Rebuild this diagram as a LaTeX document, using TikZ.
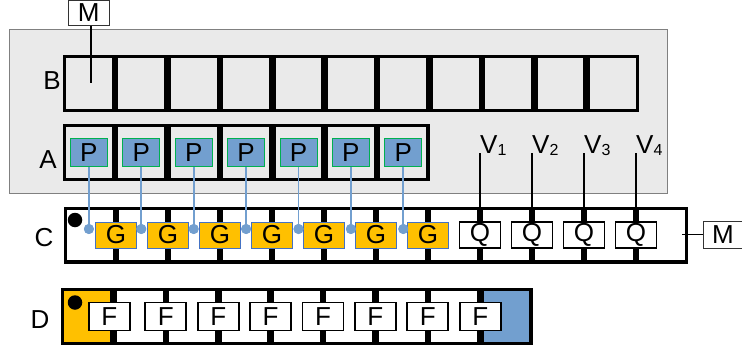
\documentclass[tikz,border=0pt]{standalone}
\usepackage{fontspec}
\setmainfont{Liberation Sans}
\definecolor{orangeG}{HTML}{FFC000}
\definecolor{bleuP}{HTML}{729FCF}
\definecolor{vertP}{HTML}{00B050}
\definecolor{bleuG}{HTML}{4472C4}
\definecolor{fond}{HTML}{EAEAEA}
\begin{document}
\begin{tikzpicture}[x=1pt,y=-1pt,font=\fontsize{26}{30}\selectfont]
	% Styles
	\tikzstyle{case}=[draw, line width=3.3pt, inner sep=0pt, minimum height=53.7pt]
	\tikzstyle{boiteP}=[draw=vertP, fill=bleuP, line width=0.8pt, minimum width=37pt, minimum height=28pt, inner sep=0pt]
	\tikzstyle{boiteG}=[draw=bleuG, fill=orangeG, line width=0.8pt, minimum width=41pt, minimum height=26pt, inner sep=0pt]
	\tikzstyle{boiteQ}=[draw, fill=white, line width=1.7pt, minimum width=41pt, minimum height=26pt, inner sep=0pt]
	\tikzstyle{boiteF}=[draw, fill=white, line width=1.7pt, minimum width=41pt, minimum height=28pt, inner sep=0pt]
	\tikzstyle{renvoi}=[draw=black!80, fill=white, line width=0.8pt, minimum width=40pt, minimum height=26pt, inner sep=0pt]
	\tikzstyle{etiquette}=[inner sep=0pt]
	\tikzstyle{pastille}=[circle, fill=black, inner sep=0pt, minimum size=14.5pt]
	\tikzstyle{point}=[circle, fill=bleuP, inner sep=0pt, minimum size=10pt]
	\tikzstyle{lien}=[bleuP, line width=1.8pt]
	\tikzstyle{fil}=[line width=2pt]
	% Dimensions
	\def\Pas{52.4}
	\def\PasC{52}
	\def\Trait{3.3}
	\def\XB{62.7}
	\def\XC{64}
	\def\XD{61}
	\def\LigneB{83.5}
	\def\LigneA{152.5}
	\def\LigneC{235}
	\def\LigneD{316.5}
	\useasboundingbox (0,0) rectangle (742,356);
	% Fond
	\draw[draw=black!50, fill=fond, line width=1pt] (9,29) rectangle (667,193);
	% Rangees de cases
	\foreach \k in {1,...,11} \node[case, minimum width={(\Pas-\Trait)*1pt}] (B\k) at ({\XB+\Pas*(\k-0.5)},\LigneB) {};
	\foreach \k in {1,...,7} \node[case, minimum width={(\Pas-\Trait)*1pt}] (A\k) at ({\XB+\Pas*(\k-0.5)},\LigneA) {};
	\foreach \k in {1,...,12} \node[case, fill=white, minimum width={(\PasC-\Trait)*1pt}] (C\k) at ({\XC+\PasC*(\k-0.5)},\LigneC) {};
	\node[case, fill=orangeG, minimum width={(\Pas-\Trait)*1pt}] (D1) at ({\XD+\Pas*0.5},\LigneD) {};
	\foreach \k in {2,...,8} \node[case, fill=white, minimum width={(\Pas-\Trait)*1pt}] (D\k) at ({\XD+\Pas*(\k-0.5)},\LigneD) {};
	\node[case, fill=bleuP, minimum width={(\Pas-\Trait)*1pt}] (D9) at ({\XD+\Pas*8.5},\LigneD) {};
	% Noms des rangees
	\node[etiquette] (nomB) at (52,81) {B};
	\node[etiquette] (nomA) at (48,160) {A};
	\node[etiquette] (nomC) at (44,238) {C};
	\node[etiquette] (nomD) at (40,320) {D};
	% Pastilles
	\node[pastille] (pC) at (75,220) {};
	\node[pastille] (pD) at (75,302.5) {};
	% Boites
	\foreach \k in {1,...,7} \node[boiteP] (P\k) at (A\k) {P};
	\foreach \k in {1,...,7} \node[boiteG] (G\k) at ({\XC+\PasC*\k},\LigneC) {G};
	\node[boiteQ] (Q1) at ({\XC+\PasC*8},\LigneC) {Q};
	\node[boiteQ] (Q2) at ({\XC+\PasC*9},\LigneC) {Q};
	\node[boiteQ] (Q3) at ({\XC+\PasC*10},\LigneC) {Q};
	\node[boiteQ] (Q4) at ({\XC+\PasC*11},\LigneC) {Q};
	\node[boiteF] (F1) at ({\XD+\Pas-4},\LigneD) {F};
	\foreach \k in {2,...,8} \node[boiteF] (F\k) at ({\XD+\Pas*\k},\LigneD) {F};
	% Liens P - G
	\foreach \k in {1,...,7} {
		\node[point] (pt\k) at (P\k |- 0,229) {};
		\draw[lien] (P\k.south) -- (pt\k.center);
		\node[point] at (pt\k) {};
	}
	% Tensions
	\node[etiquette, anchor=base west] (V1) at (Q1.north |- 0,153) {V\raisebox{-2pt}{\fontsize{16}{16}\selectfont 1}};
	\node[etiquette, anchor=base west] (V2) at (Q2.north |- 0,153) {V\raisebox{-2pt}{\fontsize{16}{16}\selectfont 2}};
	\node[etiquette, anchor=base west] (V3) at (Q3.north |- 0,153) {V\raisebox{-2pt}{\fontsize{16}{16}\selectfont 3}};
	\node[etiquette, anchor=base west] (V4) at (Q4.north |- 0,153) {V\raisebox{-2pt}{\fontsize{16}{16}\selectfont 4}};
	\draw[fil] (V1.base west) -- (Q1.north);
	\draw[fil] (V2.base west) -- (Q2.north);
	\draw[fil] (V3.base west) -- (Q3.north);
	\draw[fil] (V4.base west) -- (Q4.north);
	% Renvois M
	\node[renvoi, minimum width=41pt, minimum height=25pt] (M1) at (88.8,12.8) {M};
	\coordinate (bout1) at (91,83);
	\draw[line width=1.2pt] (bout1 |- M1.south) -- (bout1);
	\node[renvoi, minimum width=40pt, minimum height=27pt] (M2) at (723,234.5) {M};
	\coordinate (bout2) at (682,234.5);
	\draw[line width=1.2pt] (bout2) -- (M2.west);
\end{tikzpicture}
\end{document}
